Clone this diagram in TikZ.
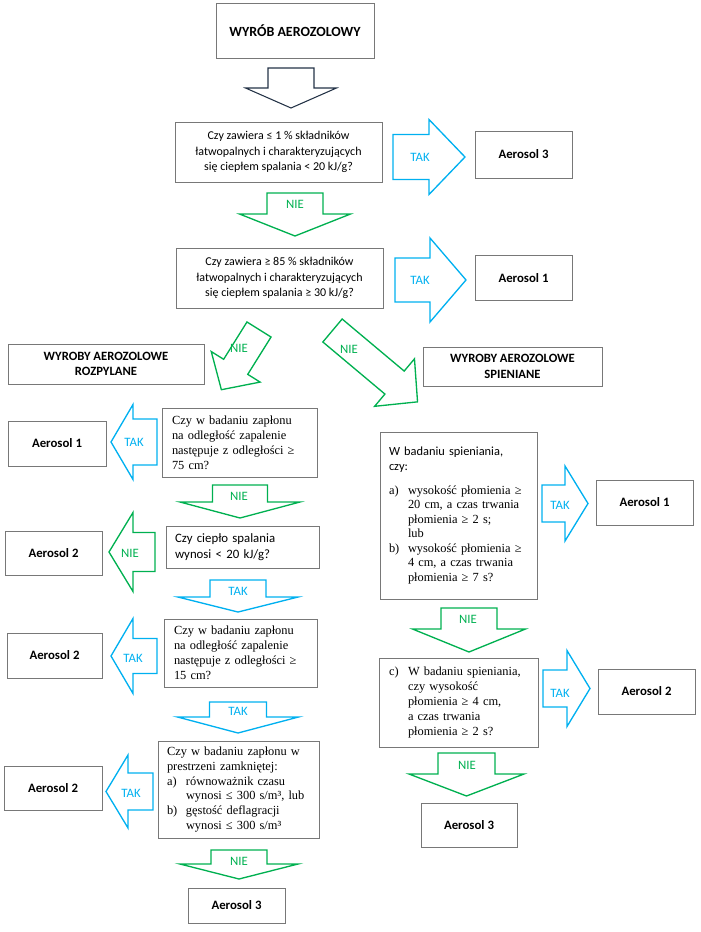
\documentclass[tikz,border=0pt]{standalone}
\usepackage{fontspec}
\setmainfont{Liberation Serif}
\setsansfont{Carlito}
\usepackage{xcolor}

\definecolor{takblue}{RGB}{0,176,240}
\definecolor{niegreen}{RGB}{0,176,80}
\definecolor{boxgray}{RGB}{120,120,120}
\definecolor{startline}{RGB}{35,50,70}

\newlength{\px}
\setlength{\px}{0.75pt}
\newcommand{\listlbl}[1]{\makebox[19\px][l]{#1}}
\newcommand{\listind}{\hspace*{19\px}}

% block arrow pointing down: shaft half width / shaft length / head half width / head length
\tikzset{
  pics/blkarrow/.style args={#1/#2/#3/#4}{code={
    \draw (-#1,0) -- (-#1,#2) -- (-#3,#2) -- (0,#2+#4) -- (#3,#2) -- (#1,#2) -- (#1,0) -- cycle;
  }}
}

\begin{document}
\begin{tikzpicture}[
    x=0.75pt, y=-0.75pt,
    every node/.style={font=\sffamily\fontsize{9.6}{11.5}\selectfont},
    box/.style={draw=boxgray, line width=0.7pt, inner sep=0pt},
    title/.style={box, align=center, font=\sffamily\bfseries\fontsize{9.5}{11.5}\selectfont},
    result/.style={box, font=\sffamily\bfseries\fontsize{9.6}{11.5}\selectfont},
    question/.style={box, align=center, font=\sffamily\fontsize{9.0}{11.6}\selectfont},
    sansq/.style={box, align=left},
    serifq/.style={box, align=left, font=\rmfamily\fontsize{9.3}{11.2}\selectfont},
    startarr/.style={color=startline, line width=0.8pt},
    tak/.style={color=takblue, line width=1pt},
    nie/.style={color=niegreen, line width=1pt},
    takl/.style={text=takblue},
    niel/.style={text=niegreen}
  ]
  \useasboundingbox (0,0) rectangle (700,932);

  % Start
  \node[title, font=\sffamily\bfseries\fontsize{10.5}{12}\selectfont, minimum width=158\px, minimum height=55\px] (wyrob) at (295,30.5) {WYRÓB AEROZOLOWY};
  \pic[startarr] at (291,68) {blkarrow=23/20/45.5/20};

  % First question
  \node[question, minimum width=207\px, minimum height=60\px] (q1) at (278.5,152) {Czy zawiera ≤ 1 \% składników\\łatwopalnych i charakteryzujących\\się ciepłem spalania < 20 kJ/g?};
  \pic[tak, rotate=90] at (393,157) {blkarrow=22.5/36/37.5/36};
  \node[takl] (tak1) at (420,157) {TAK};
  \node[result, minimum width=97\px, minimum height=47\px] (aer3top) at (523.5,154.5) {Aerosol 3};
  \pic[nie] at (295,193) {blkarrow=28/21/55.5/22};
  \node[niel] (nie1) at (295,204) {NIE};

  % Second question
  \node[question, minimum width=207\px, minimum height=60\px] (q2) at (279.5,278) {Czy zawiera ≥ 85 \% składników\\łatwopalnych i charakteryzujących\\się ciepłem spalania ≥ 30 kJ/g?};
  \pic[tak, rotate=90] at (395,280) {blkarrow=22/35/42/36};
  \node[takl] (tak2) at (420,280) {TAK};
  \node[result, minimum width=97\px, minimum height=45\px] (aer1top) at (523.5,278) {Aerosol 1};
  \pic[nie, rotate=-32] at (259,329.5) {blkarrow=14.2/44/28.8/27};
  \node[niel] (nie2) at (239,348) {NIE};
  \pic[nie, rotate=50] at (332.5,330.5) {blkarrow=15/81/31/30};
  \node[niel] (nie3) at (349,349) {NIE};

  % Two branches
  \node[title, minimum width=196\px, minimum height=40\px] (rozp) at (106,364) {WYROBY AEROZOLOWE\\ROZPYLANE};
  \node[title, minimum width=179\px, minimum height=39\px] (spien) at (512.5,366.5) {WYROBY AEROZOLOWE\\SPIENIANE};

  % Left branch: sprayed products
  \node[serifq, minimum width=155\px, minimum height=69\px, text width=135\px] (q3) at (239.5,442.5) {Czy w badaniu zapłonu\\na odległość zapalenie\\następuje z odległości ≥\\75 cm?};
  \pic[tak, rotate=-90] at (157,442) {blkarrow=23/24/37.5/22};
  \node[takl] (tak3) at (134,442) {TAK};
  \node[result, minimum width=98\px, minimum height=45\px] (aer1l) at (57,443.5) {Aerosol 1};
  \pic[nie] at (240,485) {blkarrow=27.5/17/60/16};
  \node[niel] (nie4) at (239,496) {NIE};

  \node[sansq, minimum width=153\px, minimum height=42\px, text width=135\px] (q4) at (242.5,547) {Czy ciepło spalania\\wynosi < 20 kJ/g?};
  \pic[nie, rotate=-90] at (155,552) {blkarrow=19.5/22/39.5/24};
  \node[niel] (nie5) at (130,553) {NIE};
  \node[result, minimum width=97\px, minimum height=44\px] (aer2a) at (53.5,553) {Aerosol 2};
  \pic[tak] at (238,580) {blkarrow=28/17/60/15};
  \node[takl] (tak4) at (238,591) {TAK};

  \node[serifq, minimum width=153\px, minimum height=68\px, text width=133\px] (q5) at (240.5,653) {Czy w badaniu zapłonu\\na odległość zapalenie\\następuje z odległości ≥\\15 cm?};
  \pic[tak, rotate=-90] at (157,656) {blkarrow=17.5/24/37.5/22};
  \node[takl] (tak5) at (133,658) {TAK};
  \node[result, minimum width=95\px, minimum height=45\px] (aer2b) at (54.5,655.5) {Aerosol 2};
  \pic[tak] at (238,702) {blkarrow=28.5/15/60.5/16};
  \node[takl] (tak6) at (238,711) {TAK};

  \node[serifq, minimum width=161\px, minimum height=97\px, text width=143\px] (q6) at (238.5,789.5) {Czy w badaniu zapłonu w\\prestrzeni zamkniętej:\\\listlbl{a)}równoważnik czasu\\\listind wynosi ≤ 300 s/m³, lub\\\listlbl{b)}gęstość deflagracji\\\listind wynosi ≤ 300 s/m³};
  \pic[tak, rotate=-90] at (153,791.5) {blkarrow=18.5/25/36.5/22};
  \node[takl] (tak7) at (131,793) {TAK};
  \node[result, minimum width=98\px, minimum height=44\px] (aer2c) at (53,788) {Aerosol 2};
  \pic[nie] at (239,850) {blkarrow=28/14/59/15};
  \node[niel] (nie6) at (239,861) {NIE};
  \node[result, minimum width=97\px, minimum height=35\px] (aer3l) at (236.5,905.5) {Aerosol 3};

  % Right branch: foam products
  \node[serifq, font=\rmfamily\fontsize{9.3}{10.9}\selectfont, minimum width=157\px, minimum height=167\px, text width=139\px] (q7) at (458.5,515.5) {\textsf{W badaniu spieniania,}\\\textsf{czy:}\\[7pt]\listlbl{a)}wysokość płomienia ≥\\\listind 20 cm, a czas trwania\\\listind płomienia ≥ 2 s;\\\listind lub\\\listlbl{b)}wysokość płomienia ≥\\\listind 4 cm, a czas trwania\\\listind płomienia ≥ 7 s?};
  \pic[tak, rotate=90] at (542,503.5) {blkarrow=18.5/23/37.5/23};
  \node[takl] (tak8) at (560,505) {TAK};
  \node[result, minimum width=97\px, minimum height=45\px] (aer1r) at (644.5,502.5) {Aerosol 1};
  \pic[nie] at (469,608) {blkarrow=28/21/56.5/23};
  \node[niel] (nie7) at (468,619) {NIE};

  \node[serifq, minimum width=159\px, minimum height=89\px, text width=139\px] (q8) at (458.5,702.5) {\listlbl{c)}W badaniu spieniania,\\\listind czy wysokość\\\listind płomienia ≥ 4 cm,\\\listind a czas trwania\\\listind płomienia ≥ 2 s?};
  \pic[tak, rotate=90] at (543,688.5) {blkarrow=18.5/24/38/23};
  \node[takl] (tak9) at (560,693) {TAK};
  \node[result, minimum width=97\px, minimum height=45\px] (aer2r) at (646.5,691.5) {Aerosol 2};
  \pic[nie] at (466.5,753) {blkarrow=28.5/21/57.5/22};
  \node[niel] (nie8) at (467,765) {NIE};
  \node[result, minimum width=96\px, minimum height=44\px] (aer3r) at (469,825) {Aerosol 3};
\end{tikzpicture}
\end{document}
